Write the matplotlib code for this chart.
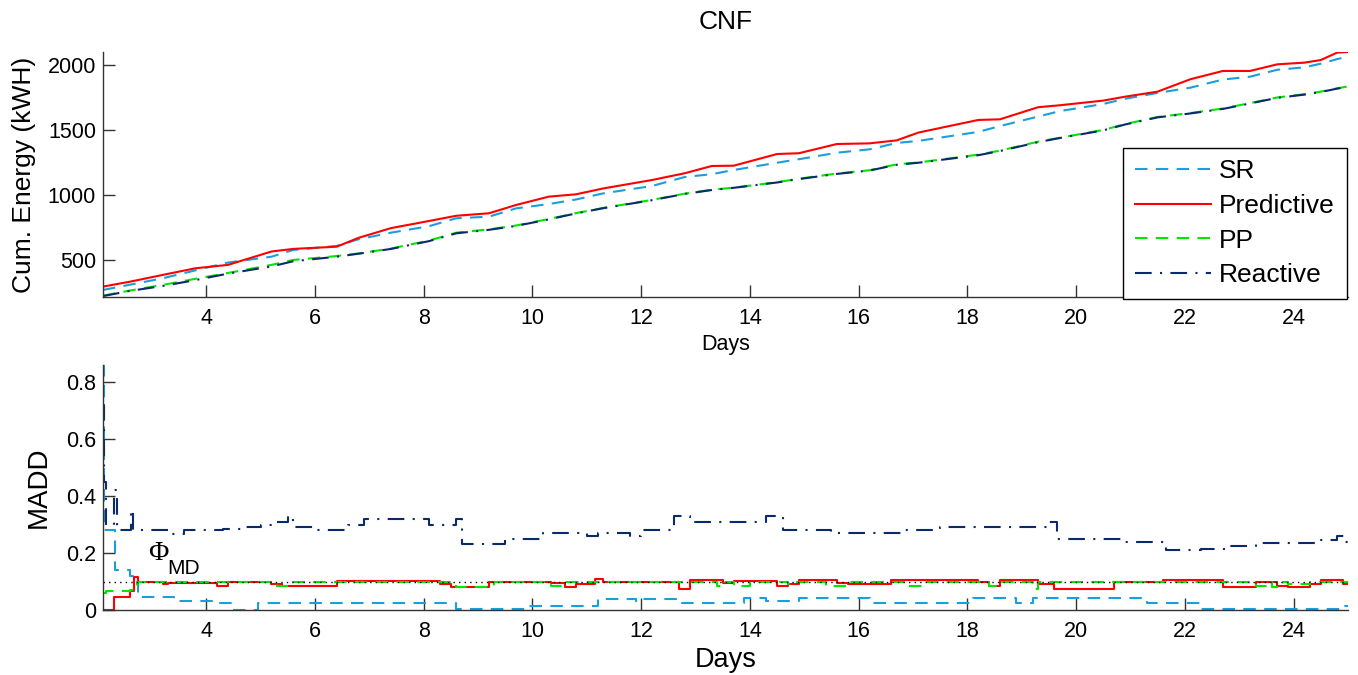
import matplotlib
matplotlib.use('Agg')
import matplotlib.pyplot as plt
import numpy as np

plt.rcParams['font.family'] = ['Liberation Sans', 'DejaVu Sans']

# ---- cumulative energy (top panel) ----
energy_days = [2.1, 2.6, 3.2, 3.8, 4.4, 5.2, 5.6, 6.4, 6.8, 7.4, 8.1, 8.6, 9.2, 9.7,
               10.3, 10.8, 11.3, 12.2, 12.8, 13.3, 13.7, 14.5, 14.9, 15.6, 16.2, 16.7,
               17.1, 18.2, 18.6, 19.3, 19.7, 20.5, 20.9, 21.5, 22.1, 22.7, 23.2, 23.7,
               24.2, 24.5, 24.8, 25.0]
energy_sr = [269, 310, 359, 420, 480, 525, 577, 608, 659, 710, 760, 821, 833, 897,
             930, 965, 1012, 1069, 1138, 1160, 1192, 1248, 1275, 1325, 1351, 1400,
             1416, 1485, 1530, 1603, 1645, 1700, 1740, 1785, 1825, 1888, 1910, 1963,
             1982, 2010, 2045, 2064]
energy_pred = [295, 333, 385, 436, 462, 565, 585, 602, 670, 745, 800, 840, 859, 923,
               987, 1005, 1050, 1115, 1167, 1223, 1225, 1315, 1321, 1392, 1397, 1420,
               1480, 1577, 1582, 1675, 1690, 1726, 1756, 1795, 1890, 1954, 1954, 2005,
               2018, 2038, 2095, 2100]
energy_pp = [225, 265, 308, 355, 400, 462, 500, 530, 550, 588, 649, 710, 735, 765,
             815, 860, 900, 962, 1010, 1040, 1056, 1098, 1125, 1165, 1190, 1236,
             1250, 1310, 1341, 1410, 1440, 1500, 1545, 1600, 1630, 1665, 1707, 1750,
             1775, 1795, 1820, 1835]
energy_react = [222, 262, 300, 345, 395, 450, 490, 525, 548, 585, 645, 705, 732, 762,
                812, 858, 898, 960, 1008, 1038, 1055, 1096, 1122, 1162, 1188, 1232,
                1248, 1306, 1338, 1406, 1438, 1497, 1542, 1597, 1627, 1662, 1704, 1747,
                1772, 1792, 1818, 1832]

# ---- MADD (bottom panel), step values starting at each day ----
sr_days = [2.1, 2.12, 2.33, 2.6, 2.75, 3.4, 4.1, 4.5, 4.95, 8.6, 9.9, 11.2, 11.9,
           11.95, 12.75, 13.5, 13.9, 14.3, 14.9, 15.6, 15.8, 16.2, 18.1, 18.9, 19.2,
           21.3, 22.3, 24.95, 25.0]
sr_madd = [0.86, 0.28, 0.14, 0.12, 0.045, 0.03, 0.025, 0.0, 0.023, 0.003, 0.014,
           0.037, 0.03, 0.037, 0.026, 0.026, 0.042, 0.03, 0.042, 0.042, 0.043, 0.026,
           0.042, 0.026, 0.042, 0.026, 0.004, 0.015, 0.015]

pred_days = [2.1, 2.3, 2.6, 2.68, 2.75, 3.2, 3.3, 4.2, 4.4, 5.2, 5.4, 6.4, 8.3, 8.5,
             9.2, 10.35, 10.6, 10.8, 11.15, 11.3, 12.7, 12.9, 13.5, 13.7, 14.5, 14.7,
             14.9, 15.6, 15.8, 16.6, 18.2, 18.4, 18.6, 19.3, 19.6, 20.7, 21.6, 22.7,
             23.3, 23.7, 23.9, 24.3, 24.5, 24.9, 25.0]
pred_madd = [0.0, 0.047, 0.065, 0.115, 0.1, 0.09, 0.095, 0.085, 0.1, 0.09, 0.085,
             0.103, 0.09, 0.08, 0.1, 0.095, 0.08, 0.09, 0.11, 0.1, 0.075, 0.105, 0.095,
             0.103, 0.085, 0.09, 0.107, 0.095, 0.09, 0.107, 0.1, 0.085, 0.105, 0.09,
             0.075, 0.1, 0.105, 0.08, 0.1, 0.085, 0.08, 0.09, 0.107, 0.09, 0.09]

pp_days = [2.1, 2.15, 2.6, 2.72, 5.3, 5.5, 8.6, 9.3, 10.35, 10.6, 13.4, 13.5, 13.7,
           14.0, 14.7, 14.8, 15.4, 15.75, 16.9, 17.2, 18.4, 18.6, 19.2, 19.3, 23.3,
           23.5, 23.6, 23.8, 23.9, 24.3, 25.0]
pp_madd = [0.06, 0.065, 0.07, 0.098, 0.085, 0.097, 0.082, 0.097, 0.085, 0.098, 0.085,
           0.097, 0.085, 0.097, 0.09, 0.097, 0.085, 0.097, 0.085, 0.097, 0.085, 0.097,
           0.075, 0.097, 0.085, 0.097, 0.08, 0.097, 0.09, 0.097, 0.097]

react_days = [2.1, 2.12, 2.15, 2.3, 2.35, 2.62, 2.66, 3.3, 3.6, 4.3, 4.7, 5.0, 5.3,
              5.5, 5.6, 6.0, 6.6, 6.9, 8.1, 8.6, 8.7, 9.5, 10.2, 11.0, 11.2, 11.8,
              12.0, 12.6, 12.9, 14.3, 14.6, 15.5, 16.8, 17.5, 19.5, 19.65, 20.9, 21.65,
              22.3, 22.8, 23.3, 24.5, 24.8, 24.95, 25.0]
react_madd = [0.72, 0.45, 0.30, 0.42, 0.28, 0.35, 0.28, 0.265, 0.28, 0.285, 0.29,
              0.30, 0.31, 0.33, 0.29, 0.28, 0.30, 0.32, 0.30, 0.32, 0.23, 0.25, 0.27,
              0.26, 0.27, 0.26, 0.28, 0.33, 0.31, 0.33, 0.28, 0.27, 0.28, 0.29, 0.31,
              0.25, 0.24, 0.21, 0.215, 0.225, 0.235, 0.245, 0.26, 0.24, 0.24]

phi_md = 0.1
day_ticks = [4, 6, 8, 10, 12, 14, 16, 18, 20, 22, 24]

c_sr = '#1A9FDB'
c_pred = '#FF0000'
c_pp = '#00E600'
c_react = '#0B2A6B'
dash = (6, 4)
dashdot = (8, 4, 1, 4)

fig = plt.figure(figsize=(13.58, 6.75), dpi=100)
ax1 = fig.add_axes([0.0758, 0.560, 0.9168, 0.363])
ax2 = fig.add_axes([0.0758, 0.0963, 0.9168, 0.363])

for ax in (ax1, ax2):
    for s in ('top', 'right'):
        ax.spines[s].set_visible(False)
    for s in ('left', 'bottom'):
        ax.spines[s].set_color('#333333')
        ax.spines[s].set_linewidth(1.0)
    ax.tick_params(direction='in', length=8.5, width=1.0, colors='#333333',
                   labelcolor='black', labelsize=15.5)
    ax.tick_params(axis='y', pad=5)
    ax.tick_params(axis='x', pad=8)
    ax.set_xlim(2.1, 25)
    ax.set_xticks(day_ticks)

# top panel
lw = 1.5
ax1.plot(energy_days, energy_sr, color=c_sr, lw=lw, dashes=dash, label='SR')
ax1.plot(energy_days, energy_pred, color=c_pred, lw=lw, label='Predictive')
ax1.plot(energy_days, energy_pp, color=c_pp, lw=lw, dashes=dash, label='PP')
ax1.plot(energy_days, energy_react, color=c_react, lw=lw, dashes=dashdot, label='Reactive')
ax1.set_ylim(215, 2100)
ax1.set_yticks([500, 1000, 1500, 2000])
ax1.set_ylabel('Cum. Energy (kWH)', fontsize=19)
ax1.yaxis.set_label_coords(-0.054, 0.5)
ax1.set_xlabel('Days', fontsize=15.5, va='top')
ax1.xaxis.set_label_coords(0.5, -0.15)

leg = ax1.legend(loc='upper right', bbox_to_anchor=(0.999, 0.61), borderaxespad=0,
                 fontsize=19, handlelength=2.9, handletextpad=0.3,
                 labelspacing=0.4, borderpad=0.45, fancybox=False, framealpha=1)
leg.get_frame().set_edgecolor('black')
leg.get_frame().set_linewidth(1.0)

fig.text(0.534, 1 - 22 / 675, 'CNF', ha='center', va='center', fontsize=19,
         family=['Liberation Sans Narrow', 'Liberation Sans', 'DejaVu Sans'])

# bottom panel
ax2.step(sr_days, sr_madd, where='post', color=c_sr, lw=lw, dashes=dash)
ax2.step(pred_days, pred_madd, where='post', color=c_pred, lw=lw)
ax2.step(pp_days, pp_madd, where='post', color=c_pp, lw=lw, dashes=dash)
ax2.step(react_days, react_madd, where='post', color=c_react, lw=lw, dashes=dashdot)
ax2.axhline(phi_md, color='black', lw=1.0, ls=(0, (1, 3)))
ax2.set_ylim(0, 0.86)
ax2.set_yticks([0, 0.2, 0.4, 0.6, 0.8])
ax2.set_yticklabels(['0', '0.2', '0.4', '0.6', '0.8'])
ax2.set_ylabel('MADD', fontsize=20)
ax2.yaxis.set_label_coords(-0.041, 0.5)
ax2.set_xlabel('Days', fontsize=19.5, va='top')
ax2.xaxis.set_label_coords(0.5, -0.15)

ax2.text(2.94, 0.2, '\u03a6', fontsize=20, va='center', ha='left',
         family=['Liberation Serif', 'DejaVu Serif'])
ax2.text(3.28, 0.147, 'MD', fontsize=15, va='center', ha='left')

fig.savefig('out.png', dpi=100)
